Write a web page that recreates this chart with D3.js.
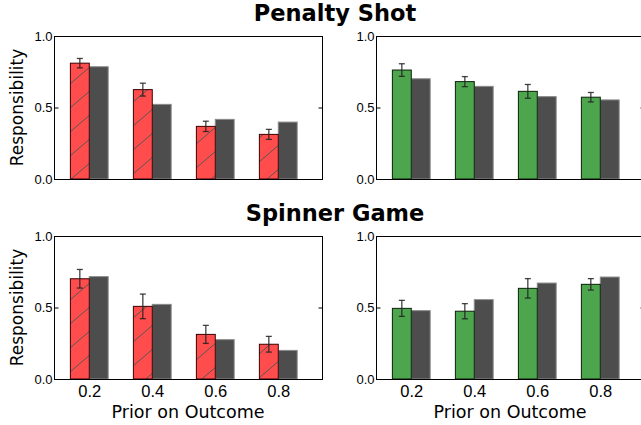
<!DOCTYPE html>
<html lang="en">
<head>
    <meta charset="UTF-8">
    <title>Responsibility by Prior</title>
    <script src="https://d3js.org/d3.v7.min.js"></script>
    <style>
        body { margin: 0; background: #fff; }
        svg { font-family: "DejaVu Sans", sans-serif; }
        .tick text { fill: #000; }
    </style>
</head>
<body>
    <svg id="chart" width="641" height="425"></svg>

    <script>
        // Data
        const priors = ["0.2", "0.4", "0.6", "0.8"];
        const yTicks = [0.0, 0.5, 1.0];
        const gameTitles = ["Penalty Shot", "Spinner Game"];

        // Penalty shot, left panel (red, hatched)
        const penaltyRed = [0.810, 0.625, 0.368, 0.312];
        const penaltyRedErr = [0.033, 0.045, 0.036, 0.035];
        const penaltyRedModel = [0.785, 0.522, 0.417, 0.398];
        // Penalty shot, right panel (green)
        const penaltyGreen = [0.762, 0.681, 0.613, 0.572];
        const penaltyGreenErr = [0.044, 0.035, 0.048, 0.033];
        const penaltyGreenModel = [0.701, 0.648, 0.576, 0.553];

        // Spinner game, left panel (red, hatched)
        const spinnerRed = [0.701, 0.508, 0.312, 0.243];
        const spinnerRedErr = [0.065, 0.086, 0.063, 0.055];
        const spinnerRedModel = [0.716, 0.522, 0.275, 0.200];
        // Spinner game, right panel (green)
        const spinnerGreen = [0.494, 0.474, 0.634, 0.662];
        const spinnerGreenErr = [0.056, 0.053, 0.068, 0.040];
        const spinnerGreenModel = [0.478, 0.555, 0.671, 0.713];

        const svg = d3.select("#chart");

        // hatch pattern for the red bars
        svg.append("defs").append("pattern")
            .attr("id", "hatch")
            .attr("patternUnits", "userSpaceOnUse")
            .attr("width", 28)
            .attr("height", 24)
            .append("path")
            .attr("d", "M0,24 L28,0 M-28,24 L0,0 M28,24 L56,0")
            .attr("stroke", "#555")
            .attr("stroke-width", 1)
            .attr("fill", "none");

        const panels = [
            { x0: 54, x1: 322, y0: 36, y1: 179, human: penaltyRed, err: penaltyRedErr, model: penaltyRedModel, color: "#ff4d4d", edge: "#3a0000", hatch: true, ylabel: true, xlabels: false },
            { x0: 376, x1: 644, y0: 36, y1: 179, human: penaltyGreen, err: penaltyGreenErr, model: penaltyGreenModel, color: "#4da64d", edge: "#0a200a", hatch: false, ylabel: false, xlabels: false },
            { x0: 54, x1: 322, y0: 236, y1: 379, human: spinnerRed, err: spinnerRedErr, model: spinnerRedModel, color: "#ff4d4d", edge: "#3a0000", hatch: true, ylabel: true, xlabels: true },
            { x0: 376, x1: 644, y0: 236, y1: 379, human: spinnerGreen, err: spinnerGreenErr, model: spinnerGreenModel, color: "#4da64d", edge: "#0a200a", hatch: false, ylabel: false, xlabels: true }
        ];

        const barW = 0.30;

        panels.forEach(p => {
            const x = d3.scaleLinear().domain([-0.56, 3.694]).range([p.x0, p.x1]);
            const y = d3.scaleLinear().domain([0, 1]).range([p.y1, p.y0]);
            const idx = d3.range(priors.length);
            const g = svg.append("g");

            // model bars (gray)
            g.selectAll(".model")
                .data(idx)
                .enter().append("rect")
                .attr("x", i => x(i))
                .attr("y", i => y(p.model[i]))
                .attr("width", x(barW) - x(0))
                .attr("height", i => y(0) - y(p.model[i]))
                .attr("fill", "#4d4d4d")
                .attr("stroke", "#8a8a8a")
                .attr("stroke-width", 1);

            // human bars
            g.selectAll(".human")
                .data(idx)
                .enter().append("rect")
                .attr("x", i => x(i - barW))
                .attr("y", i => y(p.human[i]))
                .attr("width", x(barW) - x(0))
                .attr("height", i => y(0) - y(p.human[i]))
                .attr("fill", p.color);

            if (p.hatch) {
                g.selectAll(".hatch")
                    .data(idx)
                    .enter().append("rect")
                    .attr("x", i => x(i - barW))
                    .attr("y", i => y(p.human[i]))
                    .attr("width", x(barW) - x(0))
                    .attr("height", i => y(0) - y(p.human[i]))
                    .attr("fill", "url(#hatch)");
            }

            g.selectAll(".edge")
                .data(idx)
                .enter().append("rect")
                .attr("x", i => x(i - barW))
                .attr("y", i => y(p.human[i]))
                .attr("width", x(barW) - x(0))
                .attr("height", i => y(0) - y(p.human[i]))
                .attr("fill", "none")
                .attr("stroke", p.edge)
                .attr("stroke-width", 1);

            // error bars
            const eb = g.selectAll(".err")
                .data(idx)
                .enter().append("g")
                .attr("stroke", "#222")
                .attr("stroke-opacity", 0.85)
                .attr("stroke-width", 1.3);
            const cx = i => x(i - barW / 2);
            eb.append("line")
                .attr("x1", cx).attr("x2", cx)
                .attr("y1", i => y(p.human[i] + p.err[i]))
                .attr("y2", i => y(p.human[i] - p.err[i]));
            eb.append("line")
                .attr("x1", i => cx(i) - 3).attr("x2", i => cx(i) + 3)
                .attr("y1", i => y(p.human[i] + p.err[i]))
                .attr("y2", i => y(p.human[i] + p.err[i]));
            eb.append("line")
                .attr("x1", i => cx(i) - 3).attr("x2", i => cx(i) + 3)
                .attr("y1", i => y(p.human[i] - p.err[i]))
                .attr("y2", i => y(p.human[i] - p.err[i]));

            // frame
            svg.append("rect")
                .attr("x", p.x0 + 0.5)
                .attr("y", p.y0 + 0.5)
                .attr("width", p.x1 - p.x0)
                .attr("height", p.y1 - p.y0)
                .attr("fill", "none")
                .attr("stroke", "#000")
                .attr("stroke-width", 1);

            // left axis (ticks inward)
            const yAxis = svg.append("g")
                .attr("transform", `translate(${p.x0 + 0.5},0)`)
                .call(d3.axisLeft(y).tickValues(yTicks).tickFormat(d3.format(".1f")).tickSizeInner(-4).tickSizeOuter(0).tickPadding(2));
            yAxis.select(".domain").remove();
            yAxis.selectAll("text").style("font-size", "13px");

            // right axis ticks
            const rAxis = svg.append("g")
                .attr("transform", `translate(${p.x1 + 0.5},0)`)
                .call(d3.axisRight(y).tickValues(yTicks).tickFormat("").tickSizeInner(-4).tickSizeOuter(0));
            rAxis.select(".domain").remove();

            if (p.xlabels) {
                const xAxis = svg.append("g")
                    .attr("transform", `translate(0,${p.y1})`)
                    .call(d3.axisBottom(x).tickValues(idx).tickFormat(i => priors[i]).tickSize(0).tickPadding(6));
                xAxis.select(".domain").remove();
                xAxis.selectAll("text").style("font-size", "16.5px");

                svg.append("text")
                    .attr("x", (p.x0 + p.x1) / 2)
                    .attr("y", 418)
                    .attr("text-anchor", "middle")
                    .style("font-size", "17.5px")
                    .text("Prior on Outcome");
            }

            if (p.ylabel) {
                svg.append("text")
                    .attr("transform", `translate(23,${(p.y0 + p.y1) / 2}) rotate(-90)`)
                    .attr("text-anchor", "middle")
                    .style("font-size", "17px")
                    .text("Responsibility");
            }
        });

        // row titles
        svg.selectAll(".title")
            .data(gameTitles)
            .enter().append("text")
            .attr("x", 335)
            .attr("y", (d, i) => i === 0 ? 21 : 221)
            .attr("text-anchor", "middle")
            .style("font-size", "22.5px")
            .style("font-weight", "bold")
            .text(d => d);
    </script>
</body>
</html>
